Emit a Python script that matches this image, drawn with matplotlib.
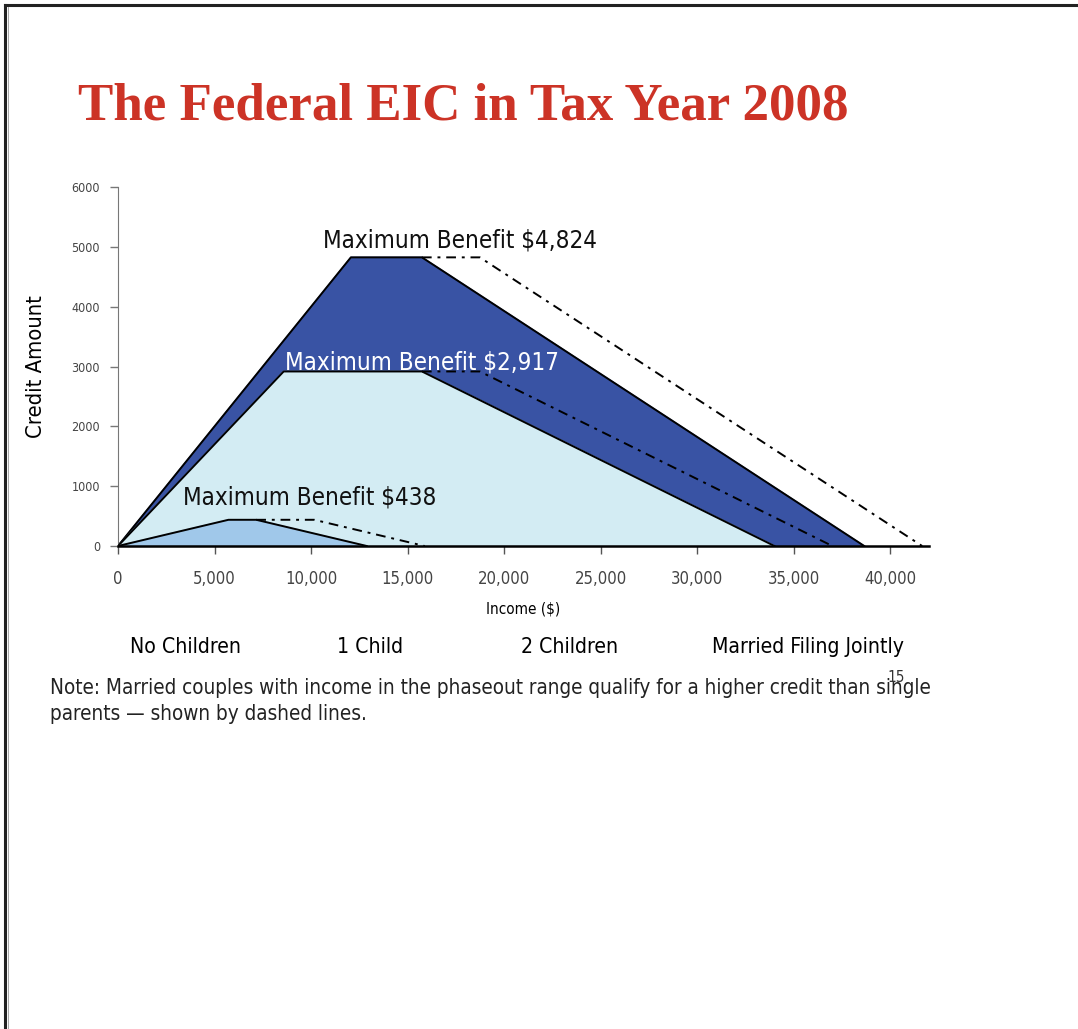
import matplotlib
matplotlib.use("Agg")
import matplotlib.pyplot as plt
from matplotlib.lines import Line2D
from matplotlib import font_manager

# ---------------- data (2008 EIC schedule) ----------------
series_names = ["2 Children", "1 Child", "No Children"]
max_benefit = [4824, 2917, 438]
phasein_end = [12060, 8580, 5720]
phaseout_start = [15740, 15740, 7160]
phaseout_end = [38646, 33995, 12880]
married_start = [18740, 18740, 10160]
married_end = [41646, 36995, 15880]

fill_colors = ["#3953A4", "#D3ECF3", "#A0C8EA"]
label_colors = ["#111111", "#FFFFFF", "#111111"]
bottom_labels = ["No Children", "1 Child", "2 Children", "Married Filing Jointly"]

x_ticks = [0, 5000, 10000, 15000, 20000, 25000, 30000, 35000, 40000]
y_ticks = [0, 1000, 2000, 3000, 4000, 5000, 6000]

# condensed sans if the system has one
cond = [f for f in font_manager.fontManager.ttflist
        if f.name == "DejaVu Sans" and f.stretch == "condensed" and f.weight in (400, "normal")]
STRETCH = "condensed" if cond else "normal"
NARROW = ["DejaVu Sans"]
K = 1.0 if STRETCH == "condensed" else 0.92   # size factor when no condensed face

W, H = 1078, 1029
fig = plt.figure(figsize=(W / 100, H / 100), dpi=100)

def fx(px):
    return px / W

def fy(py):
    return 1 - py / H

def ntext(x, y, s, size, **kw):
    return fig.text(x, y, s, fontsize=size * K, family=NARROW, stretch=STRETCH, **kw)

# slide border
fig.add_artist(Line2D([fx(5), fx(5)], [fy(5), 0], color="#222222", lw=2.2))
fig.add_artist(Line2D([fx(5), 1], [fy(5), fy(5)], color="#222222", lw=2.2))
fig.add_artist(Line2D([fx(8), fx(8)], [fy(7), 0], color="#999999", lw=0.6))

ax = fig.add_axes([fx(118), fy(546), fx(929) - fx(118), fy(187) - fy(546)])
ax.set_xlim(0, 42000)
ax.set_ylim(0, 6000)

for i in range(3):
    xs = [0, phasein_end[i], phaseout_start[i], phaseout_end[i]]
    ys = [0, max_benefit[i], max_benefit[i], 0]
    ax.fill(xs, ys, color=fill_colors[i], zorder=2 + i)
    ax.plot(xs, ys, color="black", lw=1.4, zorder=2 + i)
    mx = [phaseout_start[i], married_start[i], married_end[i]]
    my = [max_benefit[i], max_benefit[i], 0]
    ax.plot(mx, my, color="black", lw=1.4, ls=(0, (5, 3, 1.5, 3)), zorder=2 + i)

# benefit labels
label_pos = [(10620, 5100), (8650, 3060), (3350, 815)]
for i in range(3):
    ax.text(label_pos[i][0], label_pos[i][1], f"Maximum Benefit ${max_benefit[i]:,}",
            color=label_colors[i], fontsize=17.4 * K, family=NARROW, stretch=STRETCH,
            va="center", ha="left", zorder=10)

ax.spines["top"].set_visible(False)
ax.spines["right"].set_visible(False)
ax.spines["left"].set_color("#777777")
ax.spines["bottom"].set_color("black")
ax.spines["bottom"].set_linewidth(1.8)
ax.spines["bottom"].set_zorder(12)

ax.set_xticks(x_ticks)
ax.set_xticklabels([f"{t:,}" for t in x_ticks])
ax.set_yticks(y_ticks)
ax.tick_params(axis="x", length=6, width=1, color="#555555", labelsize=12 * K,
               labelcolor="#444444", pad=11)
ax.tick_params(axis="y", length=6, width=1, color="#777777", labelsize=9 * K,
               labelcolor="#444444", pad=7)
for lab in ax.get_xticklabels() + ax.get_yticklabels():
    lab.set_family(NARROW)
    lab.set_stretch(STRETCH)

ax.set_xlabel("Income ($)", fontsize=11 * K, family=NARROW, stretch=STRETCH, labelpad=10)
ax.set_ylabel("Credit Amount", fontsize=15.8 * K, family=NARROW, stretch=STRETCH, labelpad=18)

# title
fig.text(fx(78), fy(107), "The Federal EIC in Tax Year 2008", color="#CC3326",
         fontsize=38.2, fontweight="bold", family=["Liberation Serif", "DejaVu Serif"],
         va="center", ha="left")

# bottom category labels
for lab, px in zip(bottom_labels, [186, 370, 570, 808]):
    ntext(fx(px), fy(647), lab, 15.2, ha="center", va="center")

ntext(fx(50), fy(688), "Note: Married couples with income in the phaseout range qualify for a higher credit than single",
      14.9, ha="left", va="center", color="#222222")
ntext(fx(50), fy(714), "parents \u2014 shown by dashed lines.",
      14.9, ha="left", va="center", color="#222222")
ntext(fx(896), fy(677), "15", 11, ha="center", va="center", color="#333333")

fig.savefig("out.png", dpi=100)
